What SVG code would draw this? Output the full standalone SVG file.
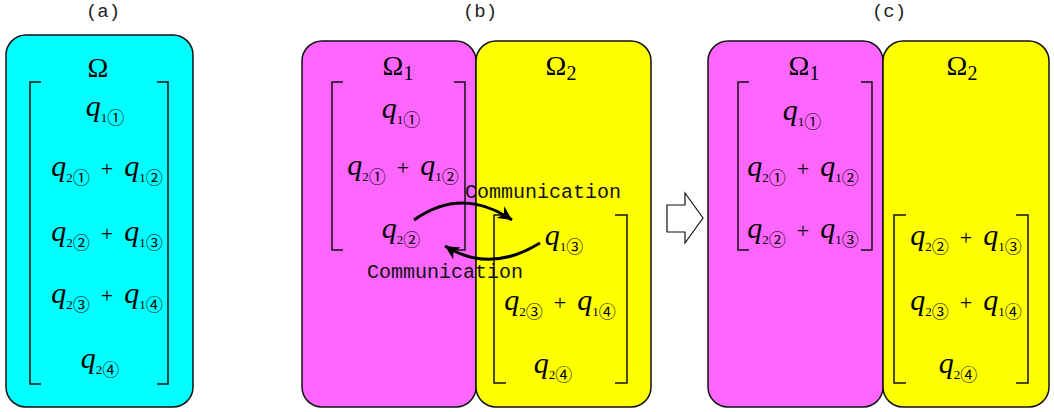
<svg xmlns="http://www.w3.org/2000/svg" width="1054" height="412" viewBox="0 0 1054 412">
<defs>
<style>
.box{stroke:#111;stroke-width:1.5}
.cy{fill:#00ffff}
.mg{fill:#ff66ff}
.yl{fill:#ffff00}
.br{fill:none;stroke:#111;stroke-width:1.5}
.lbl{font-family:"Liberation Mono","DejaVu Sans Mono",monospace;font-size:19px;text-anchor:middle;fill:#222}
.com{font-family:"Liberation Mono","DejaVu Sans Mono",monospace;font-size:20px;fill:#111}
.m{font-family:"Liberation Serif","DejaVu Serif",serif;text-anchor:middle;fill:#000}
.q{font-style:italic;font-size:30px}
.s{font-size:13px}
.c{font-family:"Noto Sans CJK JP","DejaVu Sans",sans-serif;font-size:17px}
.p{font-size:22px}
.om{font-size:28px}
.os{font-size:20px}
.arc{fill:none;stroke:#000;stroke-width:3}
</style>
<marker id="ah" markerUnits="userSpaceOnUse" markerWidth="16" markerHeight="14" refX="14" refY="7" orient="auto">
<path d="M0,0 L14,7 L0,14 L4,7 z" fill="#000"/>
</marker>
</defs>

<g id="labels">
<text class="lbl" x="103" y="17">(a)</text>
<text class="lbl" x="480" y="17">(b)</text>
<text class="lbl" x="889" y="17">(c)</text>
</g>

<g id="panel-a">
<rect class="box cy" x="6" y="35" width="187" height="372" rx="20"/>
<text class="m om" x="98" y="77">Ω</text>
<path class="br" d="M41,82 H30 V384 H41 M157,82 H168 V384 H157"/>
<text class="m" x="105" y="116"><tspan class="q">q</tspan><tspan class="s" dy="6">1</tspan><tspan class="c" dy="2">①</tspan></text>
<text class="m" x="107" y="176"><tspan class="q">q</tspan><tspan class="s" dy="6">2</tspan><tspan class="c" dy="2">①</tspan><tspan class="p" dy="-8" dx="11">+</tspan><tspan class="q" dx="11">q</tspan><tspan class="s" dy="6">1</tspan><tspan class="c" dy="2">②</tspan></text>
<text class="m" x="107" y="241"><tspan class="q">q</tspan><tspan class="s" dy="6">2</tspan><tspan class="c" dy="2">②</tspan><tspan class="p" dy="-8" dx="11">+</tspan><tspan class="q" dx="11">q</tspan><tspan class="s" dy="6">1</tspan><tspan class="c" dy="2">③</tspan></text>
<text class="m" x="107" y="303"><tspan class="q">q</tspan><tspan class="s" dy="6">2</tspan><tspan class="c" dy="2">③</tspan><tspan class="p" dy="-8" dx="11">+</tspan><tspan class="q" dx="11">q</tspan><tspan class="s" dy="6">1</tspan><tspan class="c" dy="2">④</tspan></text>
<text class="m" x="100" y="368"><tspan class="q">q</tspan><tspan class="s" dy="6">2</tspan><tspan class="c" dy="2">④</tspan></text>
</g>

<g id="omega1-b">
<rect class="box mg" x="302" y="41" width="174" height="366" rx="20"/>
<text class="m" x="398" y="75"><tspan class="om">Ω</tspan><tspan class="os" dy="5">1</tspan></text>
<path class="br" d="M343,82 H332 V250 H343 M454,82 H465 V250 H454"/>
<text class="m" x="401" y="118"><tspan class="q">q</tspan><tspan class="s" dy="6">1</tspan><tspan class="c" dy="2">①</tspan></text>
<text class="m" x="403" y="175"><tspan class="q">q</tspan><tspan class="s" dy="6">2</tspan><tspan class="c" dy="2">①</tspan><tspan class="p" dy="-8" dx="11">+</tspan><tspan class="q" dx="11">q</tspan><tspan class="s" dy="6">1</tspan><tspan class="c" dy="2">②</tspan></text>
<text class="m" x="401" y="238"><tspan class="q">q</tspan><tspan class="s" dy="6">2</tspan><tspan class="c" dy="2">②</tspan></text>
</g>

<g id="omega2-b">
<rect class="box yl" x="476" y="41" width="175" height="366" rx="20"/>
<text class="m" x="561" y="75"><tspan class="om">Ω</tspan><tspan class="os" dy="5">2</tspan></text>
<path class="br" d="M506,215 H494 V383 H506 M615,215 H627 V383 H615"/>
<text class="m" x="564" y="245"><tspan class="q">q</tspan><tspan class="s" dy="6">1</tspan><tspan class="c" dy="2">③</tspan></text>
<text class="m" x="560" y="310"><tspan class="q">q</tspan><tspan class="s" dy="6">2</tspan><tspan class="c" dy="2">③</tspan><tspan class="p" dy="-8" dx="11">+</tspan><tspan class="q" dx="11">q</tspan><tspan class="s" dy="6">1</tspan><tspan class="c" dy="2">④</tspan></text>
<text class="m" x="553" y="373"><tspan class="q">q</tspan><tspan class="s" dy="6">2</tspan><tspan class="c" dy="2">④</tspan></text>
</g>

<g id="transition-arrow">
<polygon points="667,205 685,205 685,193 703,218 685,243 685,232 667,232" fill="#fff" stroke="#111" stroke-width="1.2"/>
</g>

<g id="omega1-c">
<rect class="box mg" x="708" y="41" width="175" height="366" rx="20"/>
<text class="m" x="804" y="75"><tspan class="om">Ω</tspan><tspan class="os" dy="5">1</tspan></text>
<path class="br" d="M749,82 H738 V250 H749 M861,82 H872 V250 H861"/>
<text class="m" x="802" y="120"><tspan class="q">q</tspan><tspan class="s" dy="6">1</tspan><tspan class="c" dy="2">①</tspan></text>
<text class="m" x="803" y="176"><tspan class="q">q</tspan><tspan class="s" dy="6">2</tspan><tspan class="c" dy="2">①</tspan><tspan class="p" dy="-8" dx="11">+</tspan><tspan class="q" dx="11">q</tspan><tspan class="s" dy="6">1</tspan><tspan class="c" dy="2">②</tspan></text>
<text class="m" x="803" y="238"><tspan class="q">q</tspan><tspan class="s" dy="6">2</tspan><tspan class="c" dy="2">②</tspan><tspan class="p" dy="-8" dx="11">+</tspan><tspan class="q" dx="11">q</tspan><tspan class="s" dy="6">1</tspan><tspan class="c" dy="2">③</tspan></text>
</g>

<g id="omega2-c">
<rect class="box yl" x="883" y="41" width="166" height="366" rx="20"/>
<text class="m" x="962" y="75"><tspan class="om">Ω</tspan><tspan class="os" dy="5">2</tspan></text>
<path class="br" d="M906,215 H894 V383 H906 M1016,215 H1028 V383 H1016"/>
<text class="m" x="966" y="245"><tspan class="q">q</tspan><tspan class="s" dy="6">2</tspan><tspan class="c" dy="2">②</tspan><tspan class="p" dy="-8" dx="11">+</tspan><tspan class="q" dx="11">q</tspan><tspan class="s" dy="6">1</tspan><tspan class="c" dy="2">③</tspan></text>
<text class="m" x="966" y="310"><tspan class="q">q</tspan><tspan class="s" dy="6">2</tspan><tspan class="c" dy="2">③</tspan><tspan class="p" dy="-8" dx="11">+</tspan><tspan class="q" dx="11">q</tspan><tspan class="s" dy="6">1</tspan><tspan class="c" dy="2">④</tspan></text>
<text class="m" x="958" y="373"><tspan class="q">q</tspan><tspan class="s" dy="6">2</tspan><tspan class="c" dy="2">④</tspan></text>
</g>

<g id="connectors">
<path class="arc" d="M414,220 Q462,186 512,220" marker-end="url(#ah)"/>
<path class="arc" d="M540,243 Q490,274 445,246" marker-end="url(#ah)"/>
<text class="com" x="465" y="198">Communication</text>
<text class="com" x="367" y="278">Communication</text>
</g>
</svg>
